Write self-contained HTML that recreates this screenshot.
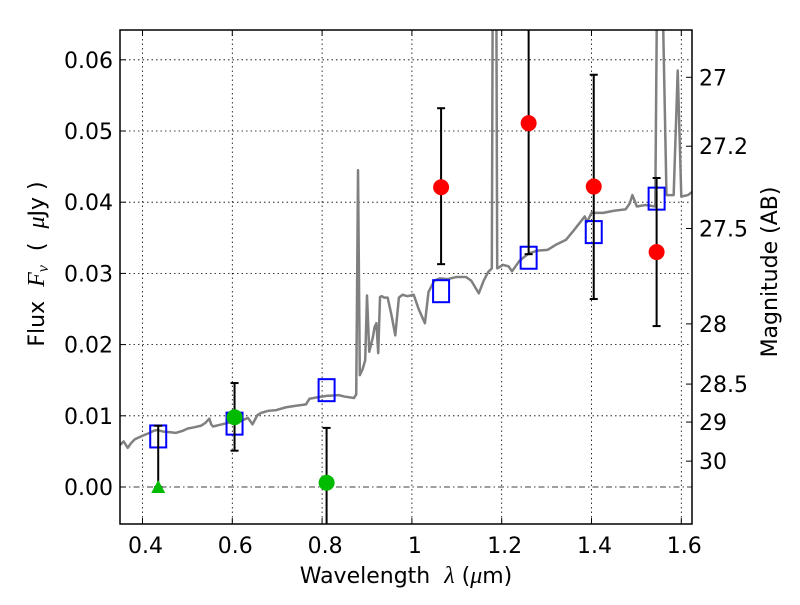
<!DOCTYPE html>
<html><head><meta charset="utf-8"><style>
body{margin:0;background:#fff;width:800px;height:600px;overflow:hidden}
svg{font-family:"DejaVu Sans","Liberation Sans",sans-serif}
text{white-space:pre}
</style></head><body>
<svg id="chart" width="800" height="600" viewBox="0 0 800 600"></svg>
<script>
const xTicks=[0.4,0.6,0.8,1.0,1.2,1.4,1.6];
const xTickLabels=["0.4","0.6","0.8","1","1.2","1.4","1.6"];
const yTicks=[0,0.01,0.02,0.03,0.04,0.05,0.06];
const yTickLabels=["0.00","0.01","0.02","0.03","0.04","0.05","0.06"];
const magTicks=[27,27.2,27.5,28,28.5,29,30];
const magTickLabels=["27","27.2","27.5","28","28.5","29","30"];
const specWave=[0.35,0.358,0.367,0.375,0.383,0.4,0.416,0.425,0.433,0.445,0.46,0.474,0.49,0.5,0.516,0.53,0.54,0.549,0.553,0.557,0.57,0.59,0.6,0.61,0.623,0.635,0.645,0.656,0.664,0.68,0.698,0.72,0.74,0.764,0.772,0.79,0.81,0.838,0.85,0.871,0.876,0.88,0.884,0.89,0.896,0.9,0.905,0.913,0.917,0.921,0.925,0.929,0.933,0.938,0.946,0.955,0.963,0.971,0.979,0.99,1.004,1.015,1.029,1.037,1.05,1.062,1.08,1.1,1.12,1.132,1.149,1.16,1.17,1.178,1.180,1.188,1.190,1.203,1.215,1.223,1.24,1.26,1.28,1.302,1.32,1.343,1.36,1.385,1.39,1.4,1.426,1.45,1.476,1.485,1.491,1.501,1.52,1.542,1.546,1.558,1.567,1.583,1.592,1.6,1.615,1.629];
const specFlux=[0.0059,0.0064,0.0055,0.0062,0.0067,0.0072,0.0076,0.0079,0.008,0.0078,0.0077,0.0076,0.0079,0.0082,0.0084,0.0086,0.009,0.0096,0.0088,0.0085,0.0087,0.009,0.0092,0.009,0.0094,0.0097,0.0088,0.0101,0.0104,0.0107,0.0108,0.0112,0.0114,0.0116,0.0124,0.0126,0.0128,0.0129,0.0127,0.0125,0.013,0.0445,0.0157,0.0165,0.0178,0.0269,0.019,0.021,0.0225,0.023,0.0188,0.0267,0.0268,0.0266,0.0266,0.024,0.0213,0.0266,0.027,0.0268,0.027,0.025,0.023,0.0274,0.029,0.0293,0.0292,0.0295,0.0295,0.029,0.0272,0.029,0.0302,0.0307,0.07,0.07,0.0307,0.0312,0.031,0.0303,0.0318,0.0328,0.0332,0.0333,0.034,0.0347,0.036,0.038,0.0372,0.0385,0.0385,0.0388,0.039,0.0398,0.041,0.0394,0.0396,0.0394,0.07,0.07,0.041,0.041,0.0585,0.0408,0.041,0.0417];
const redWave=[1.065,1.26,1.405,1.545];
const redFlux=[0.0421,0.0511,0.0422,0.033];
const redLo=[0.0313,0.0327,0.0264,0.0226];
const redHi=[0.0532,0.07,0.0579,0.0434];
const greenWave=[0.605,0.81];
const greenFlux=[0.0098,0.0006];
const greenLo=[0.0051,-0.01];
const greenHi=[0.0146,0.0083];
const triWave=[0.435];
const triFlux=[0.0];
const triHi=[0.0086];
const blueWave=[0.435,0.605,0.81,1.065,1.26,1.405,1.545];
const blueFlux=[0.0071,0.0089,0.0136,0.0275,0.0322,0.0358,0.0405];

const L=120,R=692,T=30,B=524;
const X=v=>142.5+(v-0.4)*449;
const Y=v=>487-v*7120;
const M=m=>Y(Math.pow(10,(23.9-m)/2.5));
const NS="http://www.w3.org/2000/svg";
const svg=document.getElementById('chart');
function el(t,a,p){const e=document.createElementNS(NS,t);for(const k in a)e.setAttribute(k,a[k]);(p||svg).appendChild(e);return e;}
const defs=el('defs',{});const cp=el('clipPath',{id:'c'},defs);el('rect',{x:L,y:T,width:R-L,height:B-T},cp);
const plot=el('g',{'clip-path':'url(#c)'});


xTicks.forEach(v=>{const g=el('line',{x1:X(v),x2:X(v),y1:T,y2:B,stroke:'#000','stroke-width':0.8,'stroke-dasharray':'1.5,3'},plot);

});
yTicks.forEach(v=>{const g=el('line',{x1:L,x2:R,y1:Y(v),y2:Y(v),stroke:'#000','stroke-width':0.8,'stroke-dasharray':v===0?'6,3,1.5,3':'1.5,3'},plot);

});
const sp=el('polyline',{points:specWave.map((w,i)=>X(w)+','+Y(specFlux[i])).join(' '),fill:'none',stroke:'#808080','stroke-width':2.5,'stroke-linejoin':'round'},plot);


function errbar(x,lo,hi){const g=el('g',{},plot);


el('line',{x1:X(x),x2:X(x),y1:Y(lo),y2:Y(hi),stroke:'#000','stroke-width':2},g);
[lo,hi].forEach(v=>el('line',{x1:X(x)-4,x2:X(x)+4,y1:Y(v),y2:Y(v),stroke:'#000','stroke-width':2},g));}
blueWave.forEach((w,i)=>{const r=el('rect',{x:X(w)-8,y:Y(blueFlux[i])-11,width:16,height:22,fill:'none',stroke:'#0000ff','stroke-width':2},plot);

});
redWave.forEach((w,i)=>{errbar(w,redLo[i],redHi[i]);
const c=el('circle',{cx:X(w),cy:Y(redFlux[i]),r:8,fill:'#ff0000'},plot);

});
greenWave.forEach((w,i)=>{errbar(w,greenLo[i],greenHi[i]);
const c=el('circle',{cx:X(w),cy:Y(greenFlux[i]),r:8,fill:'#00bb00'},plot);

});
triWave.forEach((w,i)=>{errbar(w,triFlux[i],triHi[i]);
const x=X(w),y=Y(triFlux[i]);
const t=el('polygon',{points:`${x-7},${y+6} ${x+7},${y+6} ${x},${y-7}`,fill:'#00bb00'},plot);

});
const fr=el('rect',{x:L,y:T,width:R-L,height:B-T,fill:'none',stroke:'#000','stroke-width':1.5});


xTicks.forEach((v,i)=>{el('line',{x1:X(v),x2:X(v),y1:B,y2:B-6,stroke:'#000'});el('line',{x1:X(v),x2:X(v),y1:T,y2:T+6,stroke:'#000'});
const t=el('text',{x:X(v)+3,y:B+29,'text-anchor':'middle','font-size':22});t.textContent=xTickLabels[i];

});
yTicks.forEach((v,i)=>{el('line',{x1:L,x2:L+6,y1:Y(v),y2:Y(v),stroke:'#000'});
const t=el('text',{x:L-7,y:Y(v)+8,'text-anchor':'end','font-size':22});t.textContent=yTickLabels[i];

});
magTicks.forEach((m,i)=>{el('line',{x1:R,x2:R-6,y1:M(m),y2:M(m),stroke:'#000'});
const t=el('text',{x:R+7,y:M(m)+8,'font-size':22});t.textContent=magTickLabels[i];

});
const xl=el('text',{x:406,y:583,'text-anchor':'middle','font-size':22});
xl.innerHTML='Wavelength  <tspan font-family="Liberation Serif" font-style="italic" font-size="24">λ</tspan> (<tspan font-family="Liberation Serif" font-style="italic" font-size="24">μ</tspan>m)';


const yl=el('text',{x:0,y:0,'text-anchor':'middle','font-size':22,transform:'translate(44,264) rotate(-90)'});
yl.innerHTML='Flux  <tspan font-family="Liberation Serif" font-style="italic" font-size="24">F<tspan font-size="16" dy="4">ν</tspan></tspan><tspan dy="-4">  (  </tspan><tspan font-family="Liberation Serif" font-style="italic" font-size="24">μ</tspan>Jy )';


const rl=el('text',{x:0,y:0,'text-anchor':'middle','font-size':22,transform:'translate(777,272) rotate(-90)'});
rl.textContent='Magnitude (AB)';


</script>
</body></html>
